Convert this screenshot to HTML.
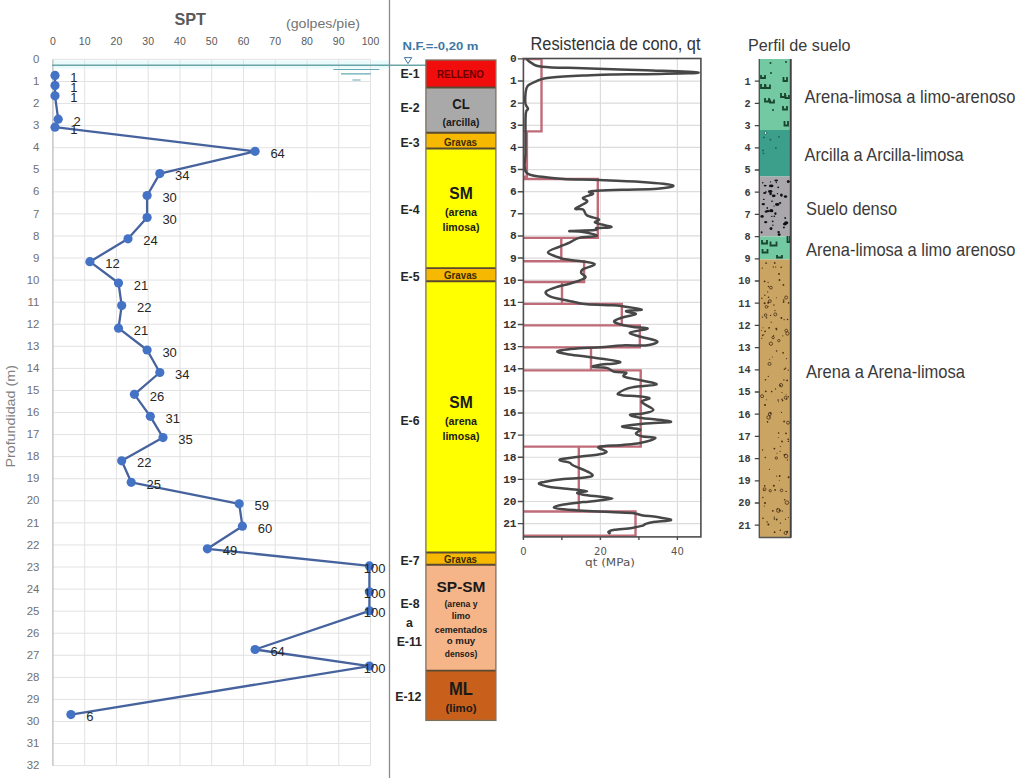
<!DOCTYPE html>
<html><head><meta charset="utf-8"><title>Perfil geotécnico</title>
<style>html,body{margin:0;padding:0;background:#fff;width:1024px;height:784px;overflow:hidden}</style>
</head><body>
<svg width="1024" height="784" viewBox="0 0 1024 784" style="display:block">
<rect width="1024" height="784" fill="#fff"/>
<rect x="52.9" y="60.5" width="336.1" height="8" fill="#e9fbfb"/>
<path d="M52.90 59.40V765.64M84.66 59.40V765.64M116.42 59.40V765.64M148.18 59.40V765.64M179.94 59.40V765.64M211.70 59.40V765.64M243.46 59.40V765.64M275.22 59.40V765.64M306.98 59.40V765.64M338.74 59.40V765.64M370.50 59.40V765.64M52.90 59.40H370.50M52.90 81.47H370.50M52.90 103.54H370.50M52.90 125.61H370.50M52.90 147.68H370.50M52.90 169.75H370.50M52.90 191.82H370.50M52.90 213.89H370.50M52.90 235.96H370.50M52.90 258.03H370.50M52.90 280.10H370.50M52.90 302.17H370.50M52.90 324.24H370.50M52.90 346.31H370.50M52.90 368.38H370.50M52.90 390.45H370.50M52.90 412.52H370.50M52.90 434.59H370.50M52.90 456.66H370.50M52.90 478.73H370.50M52.90 500.80H370.50M52.90 522.87H370.50M52.90 544.94H370.50M52.90 567.01H370.50M52.90 589.08H370.50M52.90 611.15H370.50M52.90 633.22H370.50M52.90 655.29H370.50M52.90 677.36H370.50M52.90 699.43H370.50M52.90 721.50H370.50M52.90 743.57H370.50M52.90 765.64H370.50" stroke="#e2e2e2" stroke-width="1" fill="none"/>
<path d="M52.90 59.40V765.64" stroke="#bfbfbf" stroke-width="1.2" fill="none"/>
<text x="52.9" y="45.3" font-family="'Liberation Sans', Arial, sans-serif" font-size="10.5" fill="#595959" text-anchor="middle">0</text>
<text x="84.7" y="45.3" font-family="'Liberation Sans', Arial, sans-serif" font-size="10.5" fill="#595959" text-anchor="middle">10</text>
<text x="116.4" y="45.3" font-family="'Liberation Sans', Arial, sans-serif" font-size="10.5" fill="#595959" text-anchor="middle">20</text>
<text x="148.2" y="45.3" font-family="'Liberation Sans', Arial, sans-serif" font-size="10.5" fill="#595959" text-anchor="middle">30</text>
<text x="179.9" y="45.3" font-family="'Liberation Sans', Arial, sans-serif" font-size="10.5" fill="#595959" text-anchor="middle">40</text>
<text x="211.7" y="45.3" font-family="'Liberation Sans', Arial, sans-serif" font-size="10.5" fill="#595959" text-anchor="middle">50</text>
<text x="243.5" y="45.3" font-family="'Liberation Sans', Arial, sans-serif" font-size="10.5" fill="#595959" text-anchor="middle">60</text>
<text x="275.2" y="45.3" font-family="'Liberation Sans', Arial, sans-serif" font-size="10.5" fill="#595959" text-anchor="middle">70</text>
<text x="307.0" y="45.3" font-family="'Liberation Sans', Arial, sans-serif" font-size="10.5" fill="#595959" text-anchor="middle">80</text>
<text x="338.7" y="45.3" font-family="'Liberation Sans', Arial, sans-serif" font-size="10.5" fill="#595959" text-anchor="middle">90</text>
<text x="370.5" y="45.3" font-family="'Liberation Sans', Arial, sans-serif" font-size="10.5" fill="#595959" text-anchor="middle">100</text>
<text x="39.4" y="63.0" font-family="'Liberation Sans', Arial, sans-serif" font-size="11.4" fill="#707070" text-anchor="end">0</text>
<text x="39.4" y="85.1" font-family="'Liberation Sans', Arial, sans-serif" font-size="11.4" fill="#707070" text-anchor="end">1</text>
<text x="39.4" y="107.1" font-family="'Liberation Sans', Arial, sans-serif" font-size="11.4" fill="#707070" text-anchor="end">2</text>
<text x="39.4" y="129.2" font-family="'Liberation Sans', Arial, sans-serif" font-size="11.4" fill="#707070" text-anchor="end">3</text>
<text x="39.4" y="151.3" font-family="'Liberation Sans', Arial, sans-serif" font-size="11.4" fill="#707070" text-anchor="end">4</text>
<text x="39.4" y="173.3" font-family="'Liberation Sans', Arial, sans-serif" font-size="11.4" fill="#707070" text-anchor="end">5</text>
<text x="39.4" y="195.4" font-family="'Liberation Sans', Arial, sans-serif" font-size="11.4" fill="#707070" text-anchor="end">6</text>
<text x="39.4" y="217.5" font-family="'Liberation Sans', Arial, sans-serif" font-size="11.4" fill="#707070" text-anchor="end">7</text>
<text x="39.4" y="239.6" font-family="'Liberation Sans', Arial, sans-serif" font-size="11.4" fill="#707070" text-anchor="end">8</text>
<text x="39.4" y="261.6" font-family="'Liberation Sans', Arial, sans-serif" font-size="11.4" fill="#707070" text-anchor="end">9</text>
<text x="39.4" y="283.7" font-family="'Liberation Sans', Arial, sans-serif" font-size="11.4" fill="#707070" text-anchor="end">10</text>
<text x="39.4" y="305.8" font-family="'Liberation Sans', Arial, sans-serif" font-size="11.4" fill="#707070" text-anchor="end">11</text>
<text x="39.4" y="327.8" font-family="'Liberation Sans', Arial, sans-serif" font-size="11.4" fill="#707070" text-anchor="end">12</text>
<text x="39.4" y="349.9" font-family="'Liberation Sans', Arial, sans-serif" font-size="11.4" fill="#707070" text-anchor="end">13</text>
<text x="39.4" y="372.0" font-family="'Liberation Sans', Arial, sans-serif" font-size="11.4" fill="#707070" text-anchor="end">14</text>
<text x="39.4" y="394.1" font-family="'Liberation Sans', Arial, sans-serif" font-size="11.4" fill="#707070" text-anchor="end">15</text>
<text x="39.4" y="416.1" font-family="'Liberation Sans', Arial, sans-serif" font-size="11.4" fill="#707070" text-anchor="end">16</text>
<text x="39.4" y="438.2" font-family="'Liberation Sans', Arial, sans-serif" font-size="11.4" fill="#707070" text-anchor="end">17</text>
<text x="39.4" y="460.3" font-family="'Liberation Sans', Arial, sans-serif" font-size="11.4" fill="#707070" text-anchor="end">18</text>
<text x="39.4" y="482.3" font-family="'Liberation Sans', Arial, sans-serif" font-size="11.4" fill="#707070" text-anchor="end">19</text>
<text x="39.4" y="504.4" font-family="'Liberation Sans', Arial, sans-serif" font-size="11.4" fill="#707070" text-anchor="end">20</text>
<text x="39.4" y="526.5" font-family="'Liberation Sans', Arial, sans-serif" font-size="11.4" fill="#707070" text-anchor="end">21</text>
<text x="39.4" y="548.5" font-family="'Liberation Sans', Arial, sans-serif" font-size="11.4" fill="#707070" text-anchor="end">22</text>
<text x="39.4" y="570.6" font-family="'Liberation Sans', Arial, sans-serif" font-size="11.4" fill="#707070" text-anchor="end">23</text>
<text x="39.4" y="592.7" font-family="'Liberation Sans', Arial, sans-serif" font-size="11.4" fill="#707070" text-anchor="end">24</text>
<text x="39.4" y="614.8" font-family="'Liberation Sans', Arial, sans-serif" font-size="11.4" fill="#707070" text-anchor="end">25</text>
<text x="39.4" y="636.8" font-family="'Liberation Sans', Arial, sans-serif" font-size="11.4" fill="#707070" text-anchor="end">26</text>
<text x="39.4" y="658.9" font-family="'Liberation Sans', Arial, sans-serif" font-size="11.4" fill="#707070" text-anchor="end">27</text>
<text x="39.4" y="681.0" font-family="'Liberation Sans', Arial, sans-serif" font-size="11.4" fill="#707070" text-anchor="end">28</text>
<text x="39.4" y="703.0" font-family="'Liberation Sans', Arial, sans-serif" font-size="11.4" fill="#707070" text-anchor="end">29</text>
<text x="39.4" y="725.1" font-family="'Liberation Sans', Arial, sans-serif" font-size="11.4" fill="#707070" text-anchor="end">30</text>
<text x="39.4" y="747.2" font-family="'Liberation Sans', Arial, sans-serif" font-size="11.4" fill="#707070" text-anchor="end">31</text>
<text x="39.4" y="769.2" font-family="'Liberation Sans', Arial, sans-serif" font-size="11.4" fill="#707070" text-anchor="end">32</text>
<text x="174.5" y="25" font-family="'Liberation Sans', Arial, sans-serif" font-size="17" font-weight="bold" fill="#595959" textLength="31.5" lengthAdjust="spacingAndGlyphs">SPT</text>
<text x="286" y="27.8" font-family="'Liberation Sans', Arial, sans-serif" font-size="12.5" fill="#737373" textLength="74" lengthAdjust="spacingAndGlyphs">(golpes/pie)</text>
<text transform="translate(14.6 467.6) rotate(-90)" font-family="'Liberation Sans', Arial, sans-serif" font-size="12" fill="#808080" textLength="102.5" lengthAdjust="spacingAndGlyphs">Profundidad (m)</text>
<path d="M52 65.2H426" stroke="#6aa3a8" stroke-width="1.6" fill="none"/>
<path d="M333.3 69.5H379.4M341 73.8H370.8M352.4 80H360.6" stroke="#62aab5" stroke-width="1.2" fill="none"/>
<polyline points="55.0,75.4 55.0,85.6 55.0,95.8 58.2,119.2 55.0,127.2 255.1,151.3 159.8,173.6 147.1,195.5 147.1,217.5 128.0,238.8 89.9,261.7 118.5,283.0 121.7,305.6 118.5,328.2 147.1,350.0 159.8,372.5 134.4,394.3 150.3,416.3 163.0,437.6 121.7,460.8 131.2,482.3 239.2,503.8 242.4,526.2 207.4,548.8 369.4,565.9 369.4,591.8 369.4,610.8 255.1,649.5 369.4,666.1 70.9,714.6" fill="none" stroke="#46639e" stroke-width="2.3" stroke-linejoin="round"/>
<circle cx="55.0" cy="75.4" r="4.6" fill="#4472c4"/>
<circle cx="55.0" cy="85.6" r="4.6" fill="#4472c4"/>
<circle cx="55.0" cy="95.8" r="4.6" fill="#4472c4"/>
<circle cx="58.2" cy="119.2" r="4.6" fill="#4472c4"/>
<circle cx="55.0" cy="127.2" r="4.6" fill="#4472c4"/>
<circle cx="255.1" cy="151.3" r="4.6" fill="#4472c4"/>
<circle cx="159.8" cy="173.6" r="4.6" fill="#4472c4"/>
<circle cx="147.1" cy="195.5" r="4.6" fill="#4472c4"/>
<circle cx="147.1" cy="217.5" r="4.6" fill="#4472c4"/>
<circle cx="128.0" cy="238.8" r="4.6" fill="#4472c4"/>
<circle cx="89.9" cy="261.7" r="4.6" fill="#4472c4"/>
<circle cx="118.5" cy="283.0" r="4.6" fill="#4472c4"/>
<circle cx="121.7" cy="305.6" r="4.6" fill="#4472c4"/>
<circle cx="118.5" cy="328.2" r="4.6" fill="#4472c4"/>
<circle cx="147.1" cy="350.0" r="4.6" fill="#4472c4"/>
<circle cx="159.8" cy="372.5" r="4.6" fill="#4472c4"/>
<circle cx="134.4" cy="394.3" r="4.6" fill="#4472c4"/>
<circle cx="150.3" cy="416.3" r="4.6" fill="#4472c4"/>
<circle cx="163.0" cy="437.6" r="4.6" fill="#4472c4"/>
<circle cx="121.7" cy="460.8" r="4.6" fill="#4472c4"/>
<circle cx="131.2" cy="482.3" r="4.6" fill="#4472c4"/>
<circle cx="239.2" cy="503.8" r="4.6" fill="#4472c4"/>
<circle cx="242.4" cy="526.2" r="4.6" fill="#4472c4"/>
<circle cx="207.4" cy="548.8" r="4.6" fill="#4472c4"/>
<circle cx="369.4" cy="565.9" r="4.6" fill="#4472c4"/>
<circle cx="369.4" cy="591.8" r="4.6" fill="#4472c4"/>
<circle cx="369.4" cy="610.8" r="4.6" fill="#4472c4"/>
<circle cx="255.1" cy="649.5" r="4.6" fill="#4472c4"/>
<circle cx="369.4" cy="666.1" r="4.6" fill="#4472c4"/>
<circle cx="70.9" cy="714.6" r="4.6" fill="#4472c4"/>
<text x="70.3" y="82.0" font-family="'Liberation Sans', Arial, sans-serif" font-size="13" fill="#262626">1</text>
<text x="70.3" y="92.2" font-family="'Liberation Sans', Arial, sans-serif" font-size="13" fill="#262626">1</text>
<text x="70.3" y="102.4" font-family="'Liberation Sans', Arial, sans-serif" font-size="13" fill="#262626">1</text>
<text x="73.5" y="125.8" font-family="'Liberation Sans', Arial, sans-serif" font-size="13" fill="#262626">2</text>
<text x="70.3" y="133.8" font-family="'Liberation Sans', Arial, sans-serif" font-size="13" fill="#262626">1</text>
<text x="270.4" y="157.9" font-family="'Liberation Sans', Arial, sans-serif" font-size="13" fill="#262626">64</text>
<text x="175.1" y="180.2" font-family="'Liberation Sans', Arial, sans-serif" font-size="13" fill="#262626">34</text>
<text x="162.4" y="202.1" font-family="'Liberation Sans', Arial, sans-serif" font-size="13" fill="#262626">30</text>
<text x="162.4" y="224.1" font-family="'Liberation Sans', Arial, sans-serif" font-size="13" fill="#262626">30</text>
<text x="143.3" y="245.4" font-family="'Liberation Sans', Arial, sans-serif" font-size="13" fill="#262626">24</text>
<text x="105.2" y="268.3" font-family="'Liberation Sans', Arial, sans-serif" font-size="13" fill="#262626">12</text>
<text x="133.8" y="289.6" font-family="'Liberation Sans', Arial, sans-serif" font-size="13" fill="#262626">21</text>
<text x="137.0" y="312.2" font-family="'Liberation Sans', Arial, sans-serif" font-size="13" fill="#262626">22</text>
<text x="133.8" y="334.8" font-family="'Liberation Sans', Arial, sans-serif" font-size="13" fill="#262626">21</text>
<text x="162.4" y="356.6" font-family="'Liberation Sans', Arial, sans-serif" font-size="13" fill="#262626">30</text>
<text x="175.1" y="379.1" font-family="'Liberation Sans', Arial, sans-serif" font-size="13" fill="#262626">34</text>
<text x="149.7" y="400.9" font-family="'Liberation Sans', Arial, sans-serif" font-size="13" fill="#262626">26</text>
<text x="165.6" y="422.9" font-family="'Liberation Sans', Arial, sans-serif" font-size="13" fill="#262626">31</text>
<text x="178.3" y="444.2" font-family="'Liberation Sans', Arial, sans-serif" font-size="13" fill="#262626">35</text>
<text x="137.0" y="467.4" font-family="'Liberation Sans', Arial, sans-serif" font-size="13" fill="#262626">22</text>
<text x="146.5" y="488.9" font-family="'Liberation Sans', Arial, sans-serif" font-size="13" fill="#262626">25</text>
<text x="254.5" y="510.4" font-family="'Liberation Sans', Arial, sans-serif" font-size="13" fill="#262626">59</text>
<text x="257.7" y="532.8" font-family="'Liberation Sans', Arial, sans-serif" font-size="13" fill="#262626">60</text>
<text x="222.7" y="555.4" font-family="'Liberation Sans', Arial, sans-serif" font-size="13" fill="#262626">49</text>
<text x="363.8" y="572.5" font-family="'Liberation Sans', Arial, sans-serif" font-size="13" fill="#262626">100</text>
<text x="363.8" y="598.4" font-family="'Liberation Sans', Arial, sans-serif" font-size="13" fill="#262626">100</text>
<text x="363.8" y="617.4" font-family="'Liberation Sans', Arial, sans-serif" font-size="13" fill="#262626">100</text>
<text x="270.4" y="656.1" font-family="'Liberation Sans', Arial, sans-serif" font-size="13" fill="#262626">64</text>
<text x="363.8" y="672.7" font-family="'Liberation Sans', Arial, sans-serif" font-size="13" fill="#262626">100</text>
<text x="86.2" y="721.2" font-family="'Liberation Sans', Arial, sans-serif" font-size="13" fill="#262626">6</text>
<path d="M389.5 0V778" stroke="#8c8c8c" stroke-width="1.3" fill="none"/>
<rect x="425.9" y="60" width="70.0" height="27.50" fill="#f20d0d"/>
<rect x="425.9" y="87.5" width="70.0" height="45.25" fill="#a9a9a9"/>
<rect x="425.9" y="132.75" width="70.0" height="15.75" fill="#f6b800"/>
<rect x="425.9" y="148.5" width="70.0" height="119.60" fill="#ffff00"/>
<rect x="425.9" y="268.1" width="70.0" height="13.15" fill="#f6b800"/>
<rect x="425.9" y="281.25" width="70.0" height="271.25" fill="#ffff00"/>
<rect x="425.9" y="552.5" width="70.0" height="12.25" fill="#f6b800"/>
<rect x="425.9" y="564.75" width="70.0" height="105.85" fill="#f5b589"/>
<rect x="425.9" y="670.6" width="70.0" height="49.80" fill="#c8601c"/>
<path d="M425.9 87.5H495.9M425.9 132.75H495.9M425.9 148.5H495.9M425.9 268.1H495.9M425.9 281.25H495.9M425.9 552.5H495.9M425.9 564.75H495.9M425.9 670.6H495.9" stroke="#5a4a30" stroke-width="1.8" fill="none"/>
<rect x="425.9" y="60" width="70.0" height="660.4" fill="none" stroke="#7a7060" stroke-width="1.3"/>
<text x="440.5" y="50" font-family="'Liberation Sans', Arial, sans-serif" font-size="11.3" font-weight="bold" fill="#3d77a3" text-anchor="middle" textLength="76" lengthAdjust="spacingAndGlyphs">N.F.=-0,20 m</text>
<path d="M404.3 57.6H411.8L408 63.6Z" fill="none" stroke="#3d77a3" stroke-width="1"/>
<text x="410" y="78" font-size="12.3" font-family="'Liberation Sans', Arial, sans-serif" font-weight="bold" fill="#262626" text-anchor="middle">E-1</text>
<text x="410" y="112.3" font-size="12.3" font-family="'Liberation Sans', Arial, sans-serif" font-weight="bold" fill="#262626" text-anchor="middle">E-2</text>
<text x="410" y="146.8" font-size="12.3" font-family="'Liberation Sans', Arial, sans-serif" font-weight="bold" fill="#262626" text-anchor="middle">E-3</text>
<text x="410" y="213.6" font-size="12.3" font-family="'Liberation Sans', Arial, sans-serif" font-weight="bold" fill="#262626" text-anchor="middle">E-4</text>
<text x="410" y="280.6" font-size="12.3" font-family="'Liberation Sans', Arial, sans-serif" font-weight="bold" fill="#262626" text-anchor="middle">E-5</text>
<text x="410" y="425" font-size="12.3" font-family="'Liberation Sans', Arial, sans-serif" font-weight="bold" fill="#262626" text-anchor="middle">E-6</text>
<text x="410" y="564.8" font-size="12.3" font-family="'Liberation Sans', Arial, sans-serif" font-weight="bold" fill="#262626" text-anchor="middle">E-7</text>
<text x="410" y="608" font-size="12.3" font-family="'Liberation Sans', Arial, sans-serif" font-weight="bold" fill="#262626" text-anchor="middle">E-8</text>
<text x="409.3" y="627" font-size="12.3" font-family="'Liberation Sans', Arial, sans-serif" font-weight="bold" fill="#262626" text-anchor="middle">a</text>
<text x="409.3" y="645.6" font-size="12.3" font-family="'Liberation Sans', Arial, sans-serif" font-weight="bold" fill="#262626" text-anchor="middle">E-11</text>
<text x="408.3" y="701.2" font-size="12.3" font-family="'Liberation Sans', Arial, sans-serif" font-weight="bold" fill="#262626" text-anchor="middle">E-12</text>
<text x="460.5" y="77.5" font-family="'Liberation Sans', Arial, sans-serif" font-size="10.5" font-weight="bold" fill="#6a0000" text-anchor="middle" textLength="47" lengthAdjust="spacingAndGlyphs">RELLENO</text>
<text x="461" y="108.8" font-family="'Liberation Sans', Arial, sans-serif" font-size="15.5" font-weight="bold" fill="#1a1a1a" text-anchor="middle" textLength="17.5" lengthAdjust="spacingAndGlyphs">CL</text>
<text x="461" y="126" font-family="'Liberation Sans', Arial, sans-serif" font-size="10" font-weight="bold" fill="#1a1a1a" text-anchor="middle" textLength="37" lengthAdjust="spacingAndGlyphs">(arcilla)</text>
<text x="460.5" y="145.5" font-family="'Liberation Sans', Arial, sans-serif" font-size="10" font-weight="bold" fill="#3a2a00" text-anchor="middle" textLength="33" lengthAdjust="spacingAndGlyphs">Gravas</text>
<text x="461" y="198.6" font-family="'Liberation Sans', Arial, sans-serif" font-size="16" font-weight="bold" fill="#1a1a1a" text-anchor="middle" textLength="23.5" lengthAdjust="spacingAndGlyphs">SM</text>
<text x="461" y="216" font-family="'Liberation Sans', Arial, sans-serif" font-size="10" font-weight="bold" fill="#1a1a1a" text-anchor="middle" textLength="32" lengthAdjust="spacingAndGlyphs">(arena</text>
<text x="461" y="231.3" font-family="'Liberation Sans', Arial, sans-serif" font-size="10" font-weight="bold" fill="#1a1a1a" text-anchor="middle" textLength="37" lengthAdjust="spacingAndGlyphs">limosa)</text>
<text x="460.5" y="279.4" font-family="'Liberation Sans', Arial, sans-serif" font-size="10" font-weight="bold" fill="#3a2a00" text-anchor="middle" textLength="33" lengthAdjust="spacingAndGlyphs">Gravas</text>
<text x="461" y="407.5" font-family="'Liberation Sans', Arial, sans-serif" font-size="16" font-weight="bold" fill="#1a1a1a" text-anchor="middle" textLength="23.5" lengthAdjust="spacingAndGlyphs">SM</text>
<text x="461" y="425" font-family="'Liberation Sans', Arial, sans-serif" font-size="10" font-weight="bold" fill="#1a1a1a" text-anchor="middle" textLength="32" lengthAdjust="spacingAndGlyphs">(arena</text>
<text x="461" y="439.5" font-family="'Liberation Sans', Arial, sans-serif" font-size="10" font-weight="bold" fill="#1a1a1a" text-anchor="middle" textLength="37" lengthAdjust="spacingAndGlyphs">limosa)</text>
<text x="460.5" y="563.1" font-family="'Liberation Sans', Arial, sans-serif" font-size="10" font-weight="bold" fill="#3a2a00" text-anchor="middle" textLength="33" lengthAdjust="spacingAndGlyphs">Gravas</text>
<text x="461" y="591.9" font-family="'Liberation Sans', Arial, sans-serif" font-size="14.5" font-weight="bold" fill="#1a1a1a" text-anchor="middle" textLength="49" lengthAdjust="spacingAndGlyphs">SP-SM</text>
<text x="461" y="607" font-family="'Liberation Sans', Arial, sans-serif" font-size="9" font-weight="bold" fill="#1a1a1a" text-anchor="middle" textLength="33" lengthAdjust="spacingAndGlyphs">(arena y</text>
<text x="461" y="619.4" font-family="'Liberation Sans', Arial, sans-serif" font-size="9" font-weight="bold" fill="#1a1a1a" text-anchor="middle" textLength="18.5" lengthAdjust="spacingAndGlyphs">limo</text>
<text x="461" y="632.5" font-family="'Liberation Sans', Arial, sans-serif" font-size="9" font-weight="bold" fill="#1a1a1a" text-anchor="middle" textLength="52.5" lengthAdjust="spacingAndGlyphs">cementados</text>
<text x="461" y="643.5" font-family="'Liberation Sans', Arial, sans-serif" font-size="9" font-weight="bold" fill="#1a1a1a" text-anchor="middle" textLength="28.5" lengthAdjust="spacingAndGlyphs">o muy</text>
<text x="461" y="657" font-family="'Liberation Sans', Arial, sans-serif" font-size="9" font-weight="bold" fill="#1a1a1a" text-anchor="middle" textLength="32.5" lengthAdjust="spacingAndGlyphs">densos)</text>
<text x="461" y="695" font-family="'Liberation Sans', Arial, sans-serif" font-size="17.5" font-weight="bold" fill="#1a1a1a" text-anchor="middle" textLength="24" lengthAdjust="spacingAndGlyphs">ML</text>
<text x="461" y="711.5" font-family="'Liberation Sans', Arial, sans-serif" font-size="10" font-weight="bold" fill="#1a1a1a" text-anchor="middle" textLength="31" lengthAdjust="spacingAndGlyphs">(limo)</text>
<path d="M523.4 81.03H700.9M523.4 103.16H700.9M523.4 125.29H700.9M523.4 147.42H700.9M523.4 169.55H700.9M523.4 191.68H700.9M523.4 213.81H700.9M523.4 235.94H700.9M523.4 258.07H700.9M523.4 280.20H700.9M523.4 302.33H700.9M523.4 324.46H700.9M523.4 346.59H700.9M523.4 368.72H700.9M523.4 390.85H700.9M523.4 412.98H700.9M523.4 435.11H700.9M523.4 457.24H700.9M523.4 479.37H700.9M523.4 501.50H700.9M523.4 523.63H700.9M600.40 58.5V536.9M677.40 58.5V536.9" stroke="#dcdcdc" stroke-width="1.2" fill="none"/>
<path d="M523.4 59.1H541.5V131.4H523.4M523.4 131.4H526.9V176.6H523.4M523.4 179.0H597.8V237.9H523.4M523.4 237.9H561.3V261.3H523.4M523.4 261.3H584.1V282.0H523.4M523.4 282.0H562V303.9H523.4M523.4 303.9H621.8V325.4H523.4M523.4 325.4H639.8V347.4H523.4M523.4 347.4H591V370.4H523.4M523.4 370.4H640.7V446.6H523.4M523.4 446.6H578.8V511.5H523.4M523.4 511.5H635.5V535.6H523.4" stroke="#bf6b78" stroke-width="2.4" fill="none" stroke-linejoin="miter"/>
<path d="M526.5 58.9C527.3 59.6 528.6 61.4 531.4 62.8C534.1 64.2 533.1 65.8 542.1 66.7C551.2 67.7 565.0 67.7 583.1 68.3C601.2 68.9 625.5 69.5 645.6 70.2C665.8 71.0 696.0 71.9 698.4 72.6C700.8 73.2 674.3 73.6 659.3 73.9C644.3 74.3 625.8 74.3 612.4 74.5C599.1 74.8 591.7 75.2 583.1 75.5C574.6 75.8 570.4 76.0 563.6 76.5C556.8 77.0 548.8 77.6 544.1 78.4C539.3 79.3 539.2 80.0 536.2 81.4C533.3 82.7 529.3 84.0 527.5 86.2C525.6 88.5 525.8 91.0 525.5 94.1C525.2 97.1 525.1 101.3 525.5 103.8C526.0 106.4 527.9 107.3 528.0 108.7C528.1 110.1 526.5 109.8 526.1 111.6C525.6 113.5 525.6 115.7 525.5 119.5C525.4 123.2 525.5 127.3 525.5 133.1C525.5 138.9 525.4 145.8 525.5 152.7C525.6 159.5 522.8 167.9 526.1 172.2C529.3 176.5 537.5 175.9 544.1 177.1C550.6 178.3 554.0 178.5 563.6 179.0C573.2 179.5 585.1 179.5 598.8 180.0C612.4 180.5 628.7 181.0 641.7 182.0C654.7 182.9 670.2 184.3 673.0 185.5C675.7 186.7 666.2 188.0 657.3 188.8C648.5 189.5 632.8 189.4 622.2 189.8C611.6 190.1 602.6 190.4 596.8 190.7C591.0 191.1 589.7 191.2 589.0 191.7C588.3 192.3 593.9 192.8 592.9 193.9C591.9 195.0 584.2 196.4 583.1 197.8C582.1 199.2 588.4 199.8 587.0 201.7C585.7 203.6 576.0 207.2 575.3 208.6C574.6 209.9 581.1 208.3 583.1 209.5C585.2 210.7 584.3 213.7 587.0 215.4C589.8 217.1 597.4 218.1 598.8 219.3C600.1 220.5 594.5 221.4 594.8 222.2C595.2 223.1 597.8 223.3 600.7 224.2C603.6 225.0 612.1 226.4 611.4 227.1C610.8 227.8 599.7 227.6 596.8 228.1C593.9 228.6 599.6 229.5 594.8 230.0C590.1 230.6 571.5 230.7 569.5 231.0C567.4 231.4 578.3 231.1 583.1 232.0C587.9 232.8 597.5 234.9 596.8 235.9C596.1 236.9 584.0 236.7 579.2 237.9C574.4 239.0 572.9 241.2 569.5 242.7C566.0 244.3 563.4 244.9 559.7 246.6C555.9 248.3 547.6 250.4 548.0 252.5C548.3 254.6 558.6 257.2 561.6 258.4C564.7 259.6 562.1 258.8 565.5 259.3C569.0 259.8 576.0 260.4 581.2 261.3C586.3 262.1 594.5 262.9 594.8 264.2C595.2 265.6 585.5 267.6 583.1 269.1C580.7 270.6 580.8 271.5 581.2 273.0C581.5 274.5 587.1 276.0 585.1 277.9C583.0 279.8 574.2 282.2 569.5 283.8C564.7 285.3 561.8 285.3 557.7 286.7C553.6 288.0 547.4 289.9 546.0 291.6C544.6 293.3 547.2 295.1 549.9 296.4C552.7 297.8 557.2 298.3 561.6 299.4C566.1 300.4 570.9 301.5 575.3 302.3C579.8 303.2 580.5 303.7 587.0 304.3C593.5 304.8 606.3 304.9 612.4 305.2C618.6 305.6 617.1 305.5 622.2 306.2C627.3 307.0 641.0 308.7 641.7 309.5C642.4 310.4 627.1 310.3 626.1 311.1C625.1 311.9 636.2 313.0 635.9 314.0C635.5 315.0 627.9 315.8 624.1 317.0C620.4 318.1 615.4 319.7 614.4 320.9C613.3 322.1 615.2 322.8 618.3 323.8C621.4 324.8 626.8 325.9 632.0 326.7C637.1 327.6 647.9 327.6 647.6 328.7C647.2 329.7 631.4 331.2 630.0 332.6C628.6 333.9 635.0 334.9 639.8 336.5C644.6 338.0 656.3 339.8 657.3 341.4C658.4 342.9 651.8 344.7 645.6 345.4C639.5 346.1 630.0 345.0 622.2 345.4C614.3 345.7 608.2 346.8 600.7 347.3C593.2 347.9 586.7 347.6 579.2 348.3C571.7 349.0 559.8 350.2 557.7 351.2C555.7 352.3 562.0 353.2 567.5 354.2C573.0 355.2 579.8 355.7 589.0 357.1C598.2 358.5 618.5 360.6 620.2 362.0C621.9 363.4 603.5 364.1 598.8 364.9C594.0 365.8 591.5 366.4 592.9 366.9C594.3 367.4 602.8 367.0 606.6 367.9C610.3 368.7 611.0 370.9 614.4 371.8C617.8 372.6 624.4 371.9 626.1 372.7C627.8 373.6 621.4 375.3 624.1 376.6C626.9 378.0 636.1 379.2 641.7 380.5C647.4 381.9 658.1 383.3 656.4 384.5C654.7 385.6 638.6 385.8 632.0 387.4C625.3 388.9 620.0 391.9 618.3 393.2C616.6 394.6 618.8 394.7 622.2 395.2C625.6 395.7 633.0 395.7 637.8 396.2C642.6 396.7 648.8 397.1 649.5 398.1C650.2 399.2 641.0 400.0 641.7 402.0C642.4 404.1 653.4 407.8 653.4 409.8C653.4 411.9 645.8 412.9 641.7 413.8C637.6 414.6 630.3 414.0 630.0 414.7C629.7 415.4 632.6 416.5 639.8 417.7C646.9 418.9 670.0 420.5 671.0 421.6C672.0 422.6 654.2 422.7 645.6 423.5C637.1 424.4 623.2 425.4 622.2 426.4C621.2 427.5 637.4 428.2 639.8 429.4C642.2 430.6 635.5 432.1 635.9 433.3C636.2 434.5 638.3 435.4 641.7 436.2C645.1 437.1 655.7 437.0 655.4 438.2C655.0 439.4 645.6 441.9 639.8 443.0C634.0 444.2 629.4 444.3 622.2 445.0C615.0 445.7 601.5 445.8 598.8 447.0C596.0 448.1 606.9 450.5 606.6 451.8C606.2 453.2 601.6 453.9 596.8 454.8C592.0 455.6 585.7 455.9 579.2 456.7C572.7 457.6 561.4 458.6 559.7 459.6C558.0 460.7 567.1 461.6 569.5 462.6C571.8 463.6 569.9 463.8 573.4 465.5C576.8 467.2 585.7 470.5 589.0 472.3C592.2 474.2 593.6 475.1 591.9 476.1C590.2 477.1 584.2 477.6 579.2 478.1C574.3 478.6 569.7 478.4 563.6 479.1C557.4 479.7 548.3 481.1 544.1 482.0C539.8 482.8 538.2 483.1 539.2 483.9C540.2 484.8 545.6 486.1 549.9 486.9C554.2 487.7 558.8 487.9 563.6 488.4C568.4 489.0 573.2 489.3 577.3 489.8C581.4 490.3 587.0 490.7 587.0 491.2C587.0 491.7 577.9 492.1 577.3 492.7C576.6 493.3 579.4 494.0 583.1 494.7C586.9 495.4 593.6 496.0 598.8 496.6C603.9 497.3 612.4 497.9 612.4 498.6C612.4 499.3 603.9 499.9 598.8 500.5C593.6 501.2 589.3 501.4 583.1 502.1C577.0 502.8 568.7 503.5 563.6 504.5C558.5 505.4 553.8 506.5 553.8 507.4C553.8 508.2 556.8 508.7 563.6 509.3C570.4 510.0 584.0 510.8 592.9 511.3C601.8 511.8 607.2 511.9 614.4 512.3C621.6 512.6 629.1 512.7 633.9 513.2C638.7 513.8 637.6 514.5 641.7 515.2C645.8 515.9 652.2 516.3 657.3 517.1C662.5 518.0 671.7 519.2 671.0 520.1C670.3 520.9 657.9 521.3 653.4 522.0C649.0 522.7 647.7 523.3 645.6 524.0C643.6 524.7 644.1 525.3 641.7 525.9C639.3 526.6 636.7 527.2 632.0 527.9C627.2 528.6 618.5 529.2 614.4 529.8C610.3 530.5 609.2 531.1 608.5 531.8C607.8 532.5 610.1 533.4 610.5 533.8" fill="none" stroke="#474747" stroke-width="2.5" stroke-linejoin="round"/>
<rect x="523.4" y="58.5" width="177.5" height="478.4" fill="none" stroke="#4d4d4d" stroke-width="1.6"/>
<path d="M517.8 58.90H523.4M517.8 81.03H523.4M517.8 103.16H523.4M517.8 125.29H523.4M517.8 147.42H523.4M517.8 169.55H523.4M517.8 191.68H523.4M517.8 213.81H523.4M517.8 235.94H523.4M517.8 258.07H523.4M517.8 280.20H523.4M517.8 302.33H523.4M517.8 324.46H523.4M517.8 346.59H523.4M517.8 368.72H523.4M517.8 390.85H523.4M517.8 412.98H523.4M517.8 435.11H523.4M517.8 457.24H523.4M517.8 479.37H523.4M517.8 501.50H523.4M517.8 523.63H523.4M523.40 536.9V539.9M561.90 536.9V539.9M600.40 536.9V539.9M638.90 536.9V539.9M677.40 536.9V539.9" stroke="#4d4d4d" stroke-width="1.4" fill="none"/>
<text x="516.6" y="62.3" font-family="'Liberation Mono', monospace" font-size="11.2" font-weight="bold" fill="#333" text-anchor="end">0</text>
<text x="516.6" y="84.4" font-family="'Liberation Mono', monospace" font-size="11.2" font-weight="bold" fill="#333" text-anchor="end">1</text>
<text x="516.6" y="106.6" font-family="'Liberation Mono', monospace" font-size="11.2" font-weight="bold" fill="#333" text-anchor="end">2</text>
<text x="516.6" y="128.7" font-family="'Liberation Mono', monospace" font-size="11.2" font-weight="bold" fill="#333" text-anchor="end">3</text>
<text x="516.6" y="150.8" font-family="'Liberation Mono', monospace" font-size="11.2" font-weight="bold" fill="#333" text-anchor="end">4</text>
<text x="516.6" y="172.9" font-family="'Liberation Mono', monospace" font-size="11.2" font-weight="bold" fill="#333" text-anchor="end">5</text>
<text x="516.6" y="195.1" font-family="'Liberation Mono', monospace" font-size="11.2" font-weight="bold" fill="#333" text-anchor="end">6</text>
<text x="516.6" y="217.2" font-family="'Liberation Mono', monospace" font-size="11.2" font-weight="bold" fill="#333" text-anchor="end">7</text>
<text x="516.6" y="239.3" font-family="'Liberation Mono', monospace" font-size="11.2" font-weight="bold" fill="#333" text-anchor="end">8</text>
<text x="516.6" y="261.5" font-family="'Liberation Mono', monospace" font-size="11.2" font-weight="bold" fill="#333" text-anchor="end">9</text>
<text x="516.6" y="283.6" font-family="'Liberation Mono', monospace" font-size="11.2" font-weight="bold" fill="#333" text-anchor="end">10</text>
<text x="516.6" y="305.7" font-family="'Liberation Mono', monospace" font-size="11.2" font-weight="bold" fill="#333" text-anchor="end">11</text>
<text x="516.6" y="327.9" font-family="'Liberation Mono', monospace" font-size="11.2" font-weight="bold" fill="#333" text-anchor="end">12</text>
<text x="516.6" y="350.0" font-family="'Liberation Mono', monospace" font-size="11.2" font-weight="bold" fill="#333" text-anchor="end">13</text>
<text x="516.6" y="372.1" font-family="'Liberation Mono', monospace" font-size="11.2" font-weight="bold" fill="#333" text-anchor="end">14</text>
<text x="516.6" y="394.2" font-family="'Liberation Mono', monospace" font-size="11.2" font-weight="bold" fill="#333" text-anchor="end">15</text>
<text x="516.6" y="416.4" font-family="'Liberation Mono', monospace" font-size="11.2" font-weight="bold" fill="#333" text-anchor="end">16</text>
<text x="516.6" y="438.5" font-family="'Liberation Mono', monospace" font-size="11.2" font-weight="bold" fill="#333" text-anchor="end">17</text>
<text x="516.6" y="460.6" font-family="'Liberation Mono', monospace" font-size="11.2" font-weight="bold" fill="#333" text-anchor="end">18</text>
<text x="516.6" y="482.8" font-family="'Liberation Mono', monospace" font-size="11.2" font-weight="bold" fill="#333" text-anchor="end">19</text>
<text x="516.6" y="504.9" font-family="'Liberation Mono', monospace" font-size="11.2" font-weight="bold" fill="#333" text-anchor="end">20</text>
<text x="516.6" y="527.0" font-family="'Liberation Mono', monospace" font-size="11.2" font-weight="bold" fill="#333" text-anchor="end">21</text>
<text x="523.4" y="555" font-family="'DejaVu Sans', Verdana, sans-serif" font-size="10" fill="#555" text-anchor="middle">0</text>
<text x="600.4" y="555" font-family="'DejaVu Sans', Verdana, sans-serif" font-size="10" fill="#555" text-anchor="middle">20</text>
<text x="677.4" y="555" font-family="'DejaVu Sans', Verdana, sans-serif" font-size="10" fill="#555" text-anchor="middle">40</text>
<text x="610" y="566" font-family="'DejaVu Sans', Verdana, sans-serif" font-size="10.5" fill="#555" text-anchor="middle" textLength="50" lengthAdjust="spacingAndGlyphs">qt (MPa)</text>
<text x="530.5" y="49.5" font-family="'Liberation Sans', Arial, sans-serif" font-size="17.6" fill="#333" textLength="170" lengthAdjust="spacingAndGlyphs">Resistencia de cono, qt</text>
<rect x="759.3" y="59" width="31.4" height="71.0" fill="#72c9a2"/>
<rect x="759.3" y="130" width="31.4" height="46.5" fill="#3c9f8c"/>
<rect x="759.3" y="176.5" width="31.4" height="60.0" fill="#a9a7ab"/>
<rect x="759.3" y="236.5" width="31.4" height="23.0" fill="#72c9a2"/>
<rect x="759.3" y="259.5" width="31.4" height="278.0" fill="#c9a463"/>
<path d="M761 75v3h4v-3" stroke="#1a4530" stroke-width="1.8" fill="none"/><path d="M761 84v4h4v-4" stroke="#1a4530" stroke-width="1.8" fill="none"/><path d="M765.5 84.5v3.5h4.5v-3.5" stroke="#1a4530" stroke-width="1.8" fill="none"/><path d="M765 98v3.5h4v-3.5" stroke="#1a4530" stroke-width="1.8" fill="none"/><path d="M770 99.5v3h4v-3" stroke="#1a4530" stroke-width="1.8" fill="none"/><path d="M783.5 77v4h3.5v-4" stroke="#1a4530" stroke-width="1.8" fill="none"/><path d="M781 93v4h4v-4" stroke="#1a4530" stroke-width="1.8" fill="none"/><path d="M785.5 95v3h3.5v-3" stroke="#1a4530" stroke-width="1.8" fill="none"/><path d="M783 106v3.5h4v-3.5" stroke="#1a4530" stroke-width="1.8" fill="none"/><path d="M784.5 121v4.5h3.5v-4.5" stroke="#1a4530" stroke-width="1.8" fill="none"/><path d="M762 240v3.5h5v-3.5" stroke="#1a4530" stroke-width="1.8" fill="none"/><path d="M770.5 241.5v4h6v-4" stroke="#1a4530" stroke-width="1.8" fill="none"/><path d="M762.5 249v3.5h5v-3.5" stroke="#1a4530" stroke-width="1.8" fill="none"/><path d="M777 255v2.5h5v-2.5" stroke="#1a4530" stroke-width="1.8" fill="none"/><path d="M787.5 236v6h2.5v-6" stroke="#1a4530" stroke-width="1.8" fill="none"/><circle cx="771" cy="73" r="1" fill="#1a4530"/><circle cx="773" cy="110" r="1" fill="#1a4530"/><circle cx="786" cy="62" r="1" fill="#1a4530"/><circle cx="770.5" cy="63" r="1" fill="#1a4530"/><circle cx="770.4" cy="139.7" r="0.9" fill="#1f5f52"/><circle cx="778.9" cy="136.8" r="0.9" fill="#1f5f52"/><circle cx="775.9" cy="147.9" r="0.9" fill="#1f5f52"/><circle cx="763.5" cy="153.3" r="0.9" fill="#1f5f52"/><circle cx="763.0" cy="150.5" r="0.9" fill="#1f5f52"/><circle cx="763.8" cy="137.4" r="0.9" fill="#1f5f52"/><circle cx="765.5" cy="133" r="1.3" fill="#fff" stroke="#1f5f52" stroke-width="0.8"/><ellipse cx="772.9" cy="225.3" rx="0.7" ry="0.7" fill="#111"/><ellipse cx="778.6" cy="232.1" rx="1.3" ry="1.2" fill="#111"/><ellipse cx="788.3" cy="181.6" rx="1.5" ry="1.5" fill="#111"/><ellipse cx="765.0" cy="185.6" rx="1.3" ry="0.9" fill="#111"/><ellipse cx="766.1" cy="211.6" rx="1.4" ry="1.2" fill="#111"/><ellipse cx="776.3" cy="182.5" rx="0.6" ry="0.7" fill="#111"/><ellipse cx="780.1" cy="202.9" rx="1.2" ry="0.9" fill="#111"/><ellipse cx="773.7" cy="195.8" rx="1.9" ry="1.4" fill="#111"/><ellipse cx="767.8" cy="211.2" rx="1.7" ry="1.1" fill="#111"/><ellipse cx="781.4" cy="195.1" rx="1.4" ry="1.6" fill="#111"/><ellipse cx="772.7" cy="221.4" rx="0.9" ry="0.8" fill="#111"/><ellipse cx="762.1" cy="216.4" rx="1.7" ry="1.4" fill="#111"/><ellipse cx="785.5" cy="196.6" rx="1.7" ry="1.3" fill="#111"/><ellipse cx="777.2" cy="204.5" rx="2.2" ry="1.4" fill="#111"/><ellipse cx="774.3" cy="216.2" rx="0.9" ry="0.7" fill="#111"/><ellipse cx="779.1" cy="234.6" rx="1.5" ry="1.4" fill="#111"/><ellipse cx="771.8" cy="216.4" rx="0.7" ry="0.6" fill="#111"/><ellipse cx="765.7" cy="185.6" rx="0.9" ry="0.7" fill="#111"/><ellipse cx="764.6" cy="192.9" rx="1.5" ry="1.0" fill="#111"/><ellipse cx="763.3" cy="204.2" rx="1.7" ry="1.1" fill="#111"/><ellipse cx="783.9" cy="227.4" rx="1.0" ry="0.9" fill="#111"/><ellipse cx="771.0" cy="228.5" rx="1.4" ry="1.6" fill="#111"/><ellipse cx="765.9" cy="192.0" rx="1.0" ry="0.8" fill="#111"/><ellipse cx="777.5" cy="193.7" rx="0.7" ry="0.6" fill="#111"/><ellipse cx="771.3" cy="210.7" rx="2.1" ry="1.6" fill="#111"/><ellipse cx="775.4" cy="213.6" rx="1.1" ry="1.3" fill="#111"/><ellipse cx="786.2" cy="222.7" rx="2.1" ry="1.5" fill="#111"/><ellipse cx="772.0" cy="201.3" rx="0.9" ry="0.7" fill="#111"/><ellipse cx="762.7" cy="182.8" rx="0.8" ry="0.8" fill="#111"/><ellipse cx="770.5" cy="181.9" rx="0.6" ry="0.6" fill="#111"/><ellipse cx="763.8" cy="199.4" rx="0.9" ry="0.6" fill="#111"/><ellipse cx="778.2" cy="187.3" rx="0.9" ry="0.9" fill="#111"/><ellipse cx="771.2" cy="185.9" rx="2.3" ry="1.4" fill="#111"/><ellipse cx="774.0" cy="206.1" rx="0.6" ry="0.7" fill="#111"/><ellipse cx="770.6" cy="193.8" rx="1.3" ry="1.4" fill="#111"/><ellipse cx="761.6" cy="232.3" rx="1.0" ry="1.1" fill="#111"/><ellipse cx="776.2" cy="180.5" rx="1.8" ry="1.1" fill="#111"/><ellipse cx="785.2" cy="218.0" rx="0.9" ry="0.9" fill="#111"/><ellipse cx="765.7" cy="222.2" rx="1.6" ry="1.1" fill="#111"/><ellipse cx="770.2" cy="191.5" rx="2.2" ry="1.4" fill="#111"/><ellipse cx="784.9" cy="224.1" rx="2.0" ry="1.4" fill="#111"/><ellipse cx="767.3" cy="208.0" rx="0.8" ry="1.0" fill="#111"/><circle cx="761.8" cy="338.3" r="0.6" fill="#4a2e10"/><circle cx="780.4" cy="523.1" r="0.7" fill="#4a2e10"/><circle cx="787.2" cy="531.7" r="1.0" fill="#4a2e10"/><circle cx="771.2" cy="322.2" r="0.6" fill="#4a2e10"/><circle cx="766.5" cy="317.8" r="0.8" fill="#4a2e10"/><circle cx="786.2" cy="491.4" r="0.7" fill="#4a2e10"/><circle cx="779.3" cy="480.3" r="0.5" fill="#4a2e10"/><circle cx="779.5" cy="510.4" r="0.9" fill="#4a2e10"/><circle cx="782.0" cy="392.5" r="0.6" fill="#4a2e10"/><circle cx="783.1" cy="352.8" r="0.9" fill="#4a2e10"/><circle cx="788.2" cy="370.1" r="0.7" fill="#4a2e10"/><circle cx="787.5" cy="459.9" r="0.6" fill="#4a2e10"/><circle cx="764.6" cy="303.3" r="1.0" fill="#4a2e10"/><circle cx="783.6" cy="301.9" r="0.9" fill="#4a2e10"/><circle cx="788.4" cy="441.4" r="0.7" fill="#4a2e10"/><circle cx="776.4" cy="297.8" r="0.5" fill="#4a2e10"/><circle cx="788.2" cy="439.4" r="0.8" fill="#4a2e10"/><circle cx="787.1" cy="380.4" r="0.9" fill="#4a2e10"/><circle cx="784.1" cy="319.6" r="0.6" fill="#4a2e10"/><circle cx="769.2" cy="327.7" r="0.8" fill="#4a2e10"/><circle cx="768.3" cy="376.4" r="0.6" fill="#4a2e10"/><circle cx="786.5" cy="358.6" r="0.7" fill="#4a2e10"/><circle cx="777.3" cy="508.9" r="0.7" fill="#4a2e10"/><circle cx="786.7" cy="399.0" r="0.8" fill="#4a2e10"/><circle cx="775.7" cy="267.1" r="0.7" fill="#4a2e10"/><circle cx="766.1" cy="263.1" r="0.9" fill="#4a2e10"/><circle cx="765.8" cy="391.3" r="0.9" fill="#4a2e10"/><circle cx="776.6" cy="351.0" r="0.8" fill="#4a2e10"/><circle cx="776.6" cy="476.1" r="0.6" fill="#4a2e10"/><circle cx="776.7" cy="329.8" r="0.6" fill="#4a2e10"/><circle cx="782.6" cy="400.6" r="0.8" fill="#4a2e10"/><circle cx="782.3" cy="511.1" r="0.7" fill="#4a2e10"/><circle cx="778.2" cy="400.0" r="0.8" fill="#4a2e10"/><circle cx="780.4" cy="385.5" r="0.8" fill="#4a2e10"/><circle cx="774.4" cy="519.0" r="0.8" fill="#4a2e10"/><circle cx="785.5" cy="519.2" r="0.6" fill="#4a2e10"/><circle cx="776.7" cy="519.5" r="0.9" fill="#4a2e10"/><circle cx="764.8" cy="295.2" r="0.7" fill="#4a2e10"/><circle cx="763.0" cy="327.7" r="0.5" fill="#4a2e10"/><circle cx="779.7" cy="476.0" r="0.9" fill="#4a2e10"/><circle cx="765.3" cy="457.5" r="0.8" fill="#4a2e10"/><circle cx="765.0" cy="503.0" r="1.0" fill="#4a2e10"/><circle cx="767.1" cy="522.0" r="0.7" fill="#4a2e10"/><circle cx="774.6" cy="532.2" r="0.9" fill="#4a2e10"/><circle cx="765.5" cy="379.8" r="0.8" fill="#4a2e10"/><circle cx="770.5" cy="315.4" r="0.7" fill="#4a2e10"/><circle cx="781.2" cy="267.3" r="0.8" fill="#4a2e10"/><circle cx="773.3" cy="266.9" r="0.7" fill="#4a2e10"/><circle cx="778.5" cy="401.8" r="0.5" fill="#4a2e10"/><circle cx="788.6" cy="477.2" r="1.0" fill="#4a2e10"/><circle cx="763.9" cy="334.5" r="0.5" fill="#4a2e10"/><circle cx="782.8" cy="335.8" r="0.6" fill="#4a2e10"/><circle cx="772.8" cy="510.8" r="0.9" fill="#4a2e10"/><circle cx="768.2" cy="302.8" r="1.0" fill="#4a2e10"/><circle cx="777.0" cy="453.2" r="0.5" fill="#4a2e10"/><circle cx="762.6" cy="449.9" r="0.7" fill="#4a2e10"/><circle cx="763.0" cy="518.2" r="0.8" fill="#4a2e10"/><circle cx="783.4" cy="284.9" r="0.9" fill="#4a2e10"/><circle cx="762.9" cy="497.5" r="0.7" fill="#4a2e10"/><circle cx="770.5" cy="413.0" r="1.0" fill="#4a2e10"/><circle cx="768.5" cy="297.3" r="0.8" fill="#4a2e10"/><circle cx="767.7" cy="291.9" r="0.6" fill="#4a2e10"/><circle cx="762.4" cy="317.1" r="0.7" fill="#4a2e10"/><circle cx="769.5" cy="469.3" r="0.6" fill="#4a2e10"/><circle cx="775.0" cy="310.6" r="0.7" fill="#4a2e10"/><circle cx="761.5" cy="330.4" r="0.5" fill="#4a2e10"/><circle cx="781.5" cy="412.4" r="0.6" fill="#4a2e10"/><circle cx="774.3" cy="517.2" r="0.6" fill="#4a2e10"/><circle cx="783.9" cy="380.0" r="0.7" fill="#4a2e10"/><circle cx="784.4" cy="369.3" r="0.8" fill="#4a2e10"/><circle cx="780.3" cy="530.2" r="0.7" fill="#4a2e10"/><circle cx="784.3" cy="454.9" r="0.8" fill="#4a2e10"/><circle cx="772.3" cy="356.9" r="0.5" fill="#4a2e10"/><circle cx="764.6" cy="281.3" r="0.9" fill="#4a2e10"/><circle cx="768.2" cy="306.6" r="0.5" fill="#4a2e10"/><circle cx="784.6" cy="499.7" r="0.8" fill="#4a2e10"/><circle cx="768.9" cy="328.1" r="0.6" fill="#4a2e10"/><circle cx="773.9" cy="305.0" r="0.7" fill="#4a2e10"/><circle cx="768.4" cy="524.6" r="1.0" fill="#4a2e10"/><circle cx="776.3" cy="328.7" r="1.0" fill="#4a2e10"/><circle cx="769.7" cy="359.3" r="0.5" fill="#4a2e10"/><circle cx="771.7" cy="391.6" r="0.8" fill="#4a2e10"/><circle cx="766.6" cy="399.8" r="0.5" fill="#4a2e10"/><circle cx="768.4" cy="286.5" r="0.7" fill="#4a2e10"/><circle cx="762.2" cy="268.1" r="0.7" fill="#4a2e10"/><circle cx="767.5" cy="421.9" r="0.8" fill="#4a2e10"/><circle cx="782.0" cy="441.5" r="0.9" fill="#4a2e10"/><circle cx="785.6" cy="368.3" r="0.7" fill="#4a2e10"/><circle cx="788.6" cy="302.8" r="0.9" fill="#4a2e10"/><circle cx="779.0" cy="274.0" r="0.9" fill="#4a2e10"/><circle cx="786.0" cy="433.3" r="0.9" fill="#4a2e10"/><circle cx="783.7" cy="300.0" r="0.8" fill="#4a2e10"/><circle cx="775.1" cy="489.9" r="0.9" fill="#4a2e10"/><circle cx="784.1" cy="421.4" r="0.9" fill="#4a2e10"/><circle cx="780.1" cy="451.3" r="0.6" fill="#4a2e10"/><circle cx="761.9" cy="298.3" r="0.7" fill="#4a2e10"/><circle cx="763.9" cy="490.2" r="0.8" fill="#4a2e10"/><circle cx="778.6" cy="433.0" r="0.8" fill="#4a2e10"/><circle cx="774.7" cy="262.9" r="0.9" fill="#4a2e10"/><circle cx="782.0" cy="399.3" r="0.8" fill="#4a2e10"/><circle cx="779.5" cy="280.0" r="0.9" fill="#4a2e10"/><circle cx="768.1" cy="282.3" r="0.6" fill="#4a2e10"/><circle cx="781.4" cy="318.0" r="0.9" fill="#4a2e10"/><circle cx="788.3" cy="396.8" r="0.7" fill="#4a2e10"/><circle cx="774.4" cy="448.6" r="0.9" fill="#4a2e10"/><circle cx="778.3" cy="437.5" r="0.5" fill="#4a2e10"/><circle cx="765.1" cy="331.3" r="0.9" fill="#4a2e10"/><circle cx="769.5" cy="417.0" r="0.5" fill="#4a2e10"/><circle cx="762.7" cy="335.4" r="0.8" fill="#4a2e10"/><circle cx="780.4" cy="446.5" r="0.6" fill="#4a2e10"/><circle cx="775.5" cy="388.9" r="0.7" fill="#4a2e10"/><circle cx="764.3" cy="506.0" r="0.6" fill="#4a2e10"/><circle cx="788.4" cy="517.6" r="0.5" fill="#4a2e10"/><circle cx="773.9" cy="485.8" r="1.0" fill="#4a2e10"/><circle cx="773.6" cy="335.3" r="0.6" fill="#4a2e10"/><circle cx="787.5" cy="319.5" r="0.8" fill="#4a2e10"/><circle cx="765.0" cy="405.1" r="1.0" fill="#4a2e10"/><circle cx="764.7" cy="485.9" r="0.8" fill="#4a2e10"/><circle cx="785.8" cy="454.0" r="0.6" fill="#4a2e10"/><circle cx="786.1" cy="394.7" r="0.5" fill="#4a2e10"/><circle cx="762.1" cy="396.2" r="1.5" fill="none" stroke="#4a3018" stroke-width="0.8"/><circle cx="769.9" cy="301.1" r="1.4" fill="none" stroke="#4a3018" stroke-width="0.8"/><circle cx="770.2" cy="490.7" r="1.2" fill="none" stroke="#4a3018" stroke-width="0.8"/><circle cx="781.5" cy="490.4" r="1.3" fill="none" stroke="#4a3018" stroke-width="0.8"/><circle cx="786.1" cy="456.2" r="1.8" fill="none" stroke="#4a3018" stroke-width="0.8"/><circle cx="769.5" cy="363.9" r="1.5" fill="none" stroke="#4a3018" stroke-width="0.8"/><circle cx="788.0" cy="422.7" r="1.5" fill="none" stroke="#4a3018" stroke-width="0.8"/><circle cx="773.1" cy="337.6" r="1.2" fill="none" stroke="#4a3018" stroke-width="0.8"/><circle cx="764.6" cy="489.2" r="1.4" fill="none" stroke="#4a3018" stroke-width="0.8"/><circle cx="786.3" cy="330.6" r="1.4" fill="none" stroke="#4a3018" stroke-width="0.8"/><circle cx="775.3" cy="314.4" r="1.5" fill="none" stroke="#4a3018" stroke-width="0.8"/><circle cx="786.9" cy="502.6" r="1.8" fill="none" stroke="#4a3018" stroke-width="0.8"/><circle cx="778.4" cy="510.5" r="1.9" fill="none" stroke="#4a3018" stroke-width="0.8"/><circle cx="776.3" cy="458.0" r="1.2" fill="none" stroke="#4a3018" stroke-width="0.8"/><circle cx="781.0" cy="385.2" r="1.7" fill="none" stroke="#4a3018" stroke-width="0.8"/><circle cx="778.8" cy="340.6" r="1.2" fill="none" stroke="#4a3018" stroke-width="0.8"/><circle cx="786.1" cy="297.5" r="1.5" fill="none" stroke="#4a3018" stroke-width="0.8"/><circle cx="770.9" cy="343.7" r="1.7" fill="none" stroke="#4a3018" stroke-width="0.8"/><circle cx="787.4" cy="333.5" r="1.7" fill="none" stroke="#4a3018" stroke-width="0.8"/><circle cx="769.8" cy="414.0" r="1.5" fill="none" stroke="#4a3018" stroke-width="0.8"/><circle cx="766.4" cy="306.8" r="1.3" fill="none" stroke="#4a3018" stroke-width="0.8"/><circle cx="785.6" cy="397.7" r="1.4" fill="none" stroke="#4a3018" stroke-width="0.8"/><circle cx="785.6" cy="533.0" r="1.5" fill="none" stroke="#4a3018" stroke-width="0.8"/><circle cx="765.6" cy="315.1" r="1.3" fill="none" stroke="#4a3018" stroke-width="0.8"/><circle cx="770.9" cy="287.7" r="1.4" fill="none" stroke="#4a3018" stroke-width="0.8"/><circle cx="768.7" cy="417.4" r="1.8" fill="none" stroke="#4a3018" stroke-width="0.8"/>
<path d="M759.3 59V537.5H790.7V59" fill="none" stroke="#555" stroke-width="1.4"/>
<path d="M790.7 59V537.5" fill="none" stroke="#444" stroke-width="1.8"/>
<path d="M754.8 81.20H759.3M754.8 103.40H759.3M754.8 125.60H759.3M754.8 147.80H759.3M754.8 170.00H759.3M754.8 192.20H759.3M754.8 214.40H759.3M754.8 236.60H759.3M754.8 258.80H759.3M754.8 281.00H759.3M754.8 303.20H759.3M754.8 325.40H759.3M754.8 347.60H759.3M754.8 369.80H759.3M754.8 392.00H759.3M754.8 414.20H759.3M754.8 436.40H759.3M754.8 458.60H759.3M754.8 480.80H759.3M754.8 503.00H759.3M754.8 525.20H759.3" stroke="#444" stroke-width="1.3" fill="none"/>
<text x="750.5" y="84.5" font-family="'Liberation Mono', monospace" font-size="10.2" font-weight="bold" fill="#3a3a3a" text-anchor="end">1</text>
<text x="750.5" y="106.7" font-family="'Liberation Mono', monospace" font-size="10.2" font-weight="bold" fill="#3a3a3a" text-anchor="end">2</text>
<text x="750.5" y="128.9" font-family="'Liberation Mono', monospace" font-size="10.2" font-weight="bold" fill="#3a3a3a" text-anchor="end">3</text>
<text x="750.5" y="151.1" font-family="'Liberation Mono', monospace" font-size="10.2" font-weight="bold" fill="#3a3a3a" text-anchor="end">4</text>
<text x="750.5" y="173.3" font-family="'Liberation Mono', monospace" font-size="10.2" font-weight="bold" fill="#3a3a3a" text-anchor="end">5</text>
<text x="750.5" y="195.5" font-family="'Liberation Mono', monospace" font-size="10.2" font-weight="bold" fill="#3a3a3a" text-anchor="end">6</text>
<text x="750.5" y="217.7" font-family="'Liberation Mono', monospace" font-size="10.2" font-weight="bold" fill="#3a3a3a" text-anchor="end">7</text>
<text x="750.5" y="239.9" font-family="'Liberation Mono', monospace" font-size="10.2" font-weight="bold" fill="#3a3a3a" text-anchor="end">8</text>
<text x="750.5" y="262.1" font-family="'Liberation Mono', monospace" font-size="10.2" font-weight="bold" fill="#3a3a3a" text-anchor="end">9</text>
<text x="750.5" y="284.3" font-family="'Liberation Mono', monospace" font-size="10.2" font-weight="bold" fill="#3a3a3a" text-anchor="end">10</text>
<text x="750.5" y="306.5" font-family="'Liberation Mono', monospace" font-size="10.2" font-weight="bold" fill="#3a3a3a" text-anchor="end">11</text>
<text x="750.5" y="328.7" font-family="'Liberation Mono', monospace" font-size="10.2" font-weight="bold" fill="#3a3a3a" text-anchor="end">12</text>
<text x="750.5" y="350.9" font-family="'Liberation Mono', monospace" font-size="10.2" font-weight="bold" fill="#3a3a3a" text-anchor="end">13</text>
<text x="750.5" y="373.1" font-family="'Liberation Mono', monospace" font-size="10.2" font-weight="bold" fill="#3a3a3a" text-anchor="end">14</text>
<text x="750.5" y="395.3" font-family="'Liberation Mono', monospace" font-size="10.2" font-weight="bold" fill="#3a3a3a" text-anchor="end">15</text>
<text x="750.5" y="417.5" font-family="'Liberation Mono', monospace" font-size="10.2" font-weight="bold" fill="#3a3a3a" text-anchor="end">16</text>
<text x="750.5" y="439.7" font-family="'Liberation Mono', monospace" font-size="10.2" font-weight="bold" fill="#3a3a3a" text-anchor="end">17</text>
<text x="750.5" y="461.9" font-family="'Liberation Mono', monospace" font-size="10.2" font-weight="bold" fill="#3a3a3a" text-anchor="end">18</text>
<text x="750.5" y="484.1" font-family="'Liberation Mono', monospace" font-size="10.2" font-weight="bold" fill="#3a3a3a" text-anchor="end">19</text>
<text x="750.5" y="506.3" font-family="'Liberation Mono', monospace" font-size="10.2" font-weight="bold" fill="#3a3a3a" text-anchor="end">20</text>
<text x="750.5" y="528.5" font-family="'Liberation Mono', monospace" font-size="10.2" font-weight="bold" fill="#3a3a3a" text-anchor="end">21</text>
<text x="748" y="51.2" font-family="'Liberation Sans', Arial, sans-serif" font-size="17" fill="#3a3a3a" textLength="102.5" lengthAdjust="spacingAndGlyphs">Perfil de suelo</text>
<text x="804.5" y="103.3" font-family="'Liberation Sans', Arial, sans-serif" font-size="17.8" fill="#3a3a3a" lengthAdjust="spacingAndGlyphs" textLength="211">Arena-limosa a limo-arenoso</text>
<text x="804.5" y="161.3" font-family="'Liberation Sans', Arial, sans-serif" font-size="17.8" fill="#3a3a3a" lengthAdjust="spacingAndGlyphs" textLength="159">Arcilla a Arcilla-limosa</text>
<text x="806" y="214.9" font-family="'Liberation Sans', Arial, sans-serif" font-size="17.8" fill="#3a3a3a" lengthAdjust="spacingAndGlyphs" textLength="91">Suelo denso</text>
<text x="806" y="255.9" font-family="'Liberation Sans', Arial, sans-serif" font-size="17.8" fill="#3a3a3a" lengthAdjust="spacingAndGlyphs" textLength="209.5">Arena-limosa a limo arenoso</text>
<text x="806" y="377.5" font-family="'Liberation Sans', Arial, sans-serif" font-size="17.8" fill="#3a3a3a" lengthAdjust="spacingAndGlyphs" textLength="159">Arena a Arena-limosa</text>
</svg>
</body></html>
